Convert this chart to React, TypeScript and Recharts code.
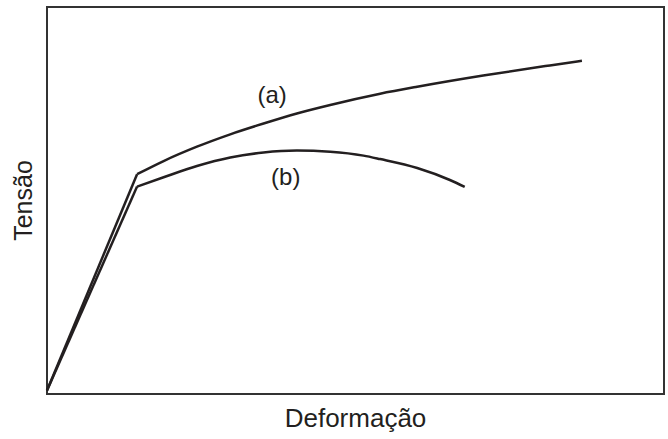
import React from 'react';
import { LineChart, Line, XAxis, YAxis, ReferenceDot, ReferenceArea } from 'recharts';

// Stress-strain curves, strain (0-100) vs stress (0-100), arbitrary units
const elasticA = [
  { x: 0, y: 0.9 },
  { x: 14.6, y: 56.8 },
];
const plasticA = [
  { x: 14.6, y: 56.8 },
  { x: 18.9, y: 60.2 },
  { x: 24.3, y: 63.9 },
  { x: 29.7, y: 67.1 },
  { x: 35.1, y: 69.9 },
  { x: 40.5, y: 72.5 },
  { x: 45.9, y: 74.7 },
  { x: 54.0, y: 77.6 },
  { x: 60.0, y: 79.4 },
  { x: 70.7, y: 82.3 },
  { x: 81.5, y: 84.9 },
  { x: 86.7, y: 86.1 },
];

const elasticB = [
  { x: 0, y: 0.9 },
  { x: 14.6, y: 53.6 },
];
const plasticB = [
  { x: 14.6, y: 53.6 },
  { x: 18.9, y: 56.0 },
  { x: 24.3, y: 58.9 },
  { x: 29.7, y: 61.1 },
  { x: 35.1, y: 62.4 },
  { x: 40.5, y: 62.9 },
  { x: 45.9, y: 62.6 },
  { x: 51.3, y: 61.6 },
  { x: 54.0, y: 60.7 },
  { x: 60.0, y: 58.4 },
  { x: 65.3, y: 55.3 },
  { x: 67.7, y: 53.5 },
];

const curveLabels = [
  { text: '(a)', x: 36.5, y: 77.3 },
  { text: '(b)', x: 38.7, y: 56.3 },
];

const xLabel = 'Deformação';
const yLabel = 'Tensão';

const ink = '#231f20';
const frame = '#333333';
const font = '"Liberation Sans", Arial, Helvetica, sans-serif';

export default function App() {
  return (
    <div style={{ width: 668, height: 439, background: '#fff' }}>
      <style>{'body{margin:0}'}</style>
      <LineChart width={668} height={439} margin={{ top: 7, right: 4, bottom: 44, left: 46 }}>
        <XAxis
          dataKey="x"
          type="number"
          domain={[0, 100]}
          height={1}
          tick={false}
          tickLine={false}
          axisLine={false}
          label={{ value: xLabel, position: 'bottom', offset: 14, fontSize: 26, fill: ink, fontFamily: font }}
        />
        <YAxis
          type="number"
          domain={[0, 100]}
          width={1}
          tick={false}
          tickLine={false}
          axisLine={false}
          label={{
            value: yLabel,
            position: 'left',
            angle: -90,
            offset: 23,
            fontSize: 25,
            fill: ink,
            fontFamily: font,
            style: { textAnchor: 'middle' },
          }}
        />
        {/* plot frame */}
        <ReferenceArea x1={0} x2={100} y1={0} y2={100} fill="none" stroke={frame} strokeWidth={2} ifOverflow="visible" />
        <Line data={elasticA} dataKey="y" type="linear" stroke={ink} strokeWidth={2.5} dot={false} isAnimationActive={false} />
        <Line data={plasticA} dataKey="y" type="monotone" stroke={ink} strokeWidth={2.5} dot={false} isAnimationActive={false} />
        <Line data={elasticB} dataKey="y" type="linear" stroke={ink} strokeWidth={2.5} dot={false} isAnimationActive={false} />
        <Line data={plasticB} dataKey="y" type="monotone" stroke={ink} strokeWidth={2.5} dot={false} isAnimationActive={false} />
        {curveLabels.map((l) => (
          <ReferenceDot
            key={l.text}
            x={l.x}
            y={l.y}
            r={0}
            stroke="none"
            fill="none"
            label={{ value: l.text, position: 'center', fontSize: 24, fill: ink, fontFamily: font }}
          />
        ))}
      </LineChart>
    </div>
  );
}
